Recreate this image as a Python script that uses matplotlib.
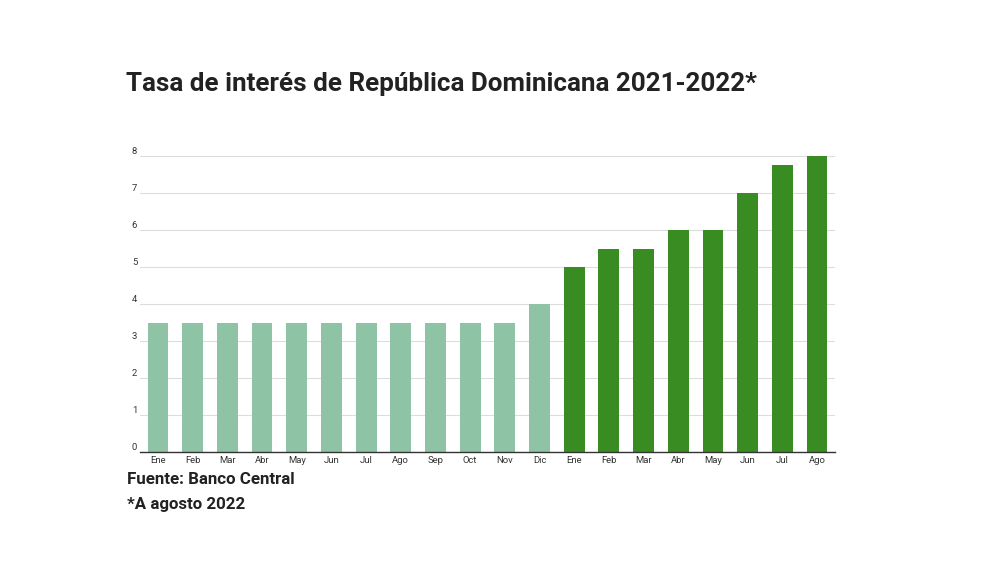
import matplotlib
matplotlib.use("Agg")
import matplotlib.pyplot as plt

plt.rcParams['font.family'] = ['Roboto', 'DejaVu Sans']

months = ["Ene", "Feb", "Mar", "Abr", "May", "Jun", "Jul", "Ago", "Sep", "Oct", "Nov", "Dic",
          "Ene", "Feb", "Mar", "Abr", "May", "Jun", "Jul", "Ago"]
rates_2021 = [3.5, 3.5, 3.5, 3.5, 3.5, 3.5, 3.5, 3.5, 3.5, 3.5, 3.5, 4.0]
rates_2022 = [5.0, 5.5, 5.5, 6.0, 6.0, 7.0, 7.75, 8.0]
yticks = [0, 1, 2, 3, 4, 5, 6, 7, 8]

light = "#8fc3a6"
dark = "#388c22"

fig = plt.figure(figsize=(10, 5.62), dpi=100)
ax = fig.add_axes([0.14, 0.1957, 0.695, 0.5267])

values = rates_2021 + rates_2022
colors = [light] * len(rates_2021) + [dark] * len(rates_2022)
x = list(range(len(values)))
ax.bar(x, values, width=0.6, color=colors, zorder=2)

ax.set_xlim(-0.52, len(values) - 1 + 0.52)
ax.set_ylim(0, 8)
ax.set_xticks(x)
ax.set_xticklabels(months, fontsize=6.8, color="#333333")
ax.set_yticks(yticks)
ax.set_yticklabels([str(v) for v in yticks], fontsize=6.8, color="#333333")
for lab in ax.get_yticklabels():
    lab.set_va('bottom')
ax.tick_params(axis='x', length=0, pad=3)
ax.tick_params(axis='y', length=0, pad=2)

ax.grid(axis='y', color="#dddddd", linewidth=0.8, zorder=0)
for s in ['top', 'right', 'left']:
    ax.spines[s].set_visible(False)
ax.spines['bottom'].set_color("#333333")
ax.spines['bottom'].set_linewidth(1.0)
ax.spines['bottom'].set_zorder(3)

fig.text(0.126, 0.838, "Tasa de interés de República Dominicana 2021-2022*",
         fontsize=18.7, fontweight='bold', color="#222222", va='baseline')
fig.text(0.127, 0.139, "Fuente: Banco Central", fontsize=12.2,
         fontweight='bold', color="#222222", va='baseline')
fig.text(0.127, 0.094, "*A agosto 2022", fontsize=12.2,
         fontweight='bold', color="#222222", va='baseline')

fig.savefig("out.png", dpi=100)
